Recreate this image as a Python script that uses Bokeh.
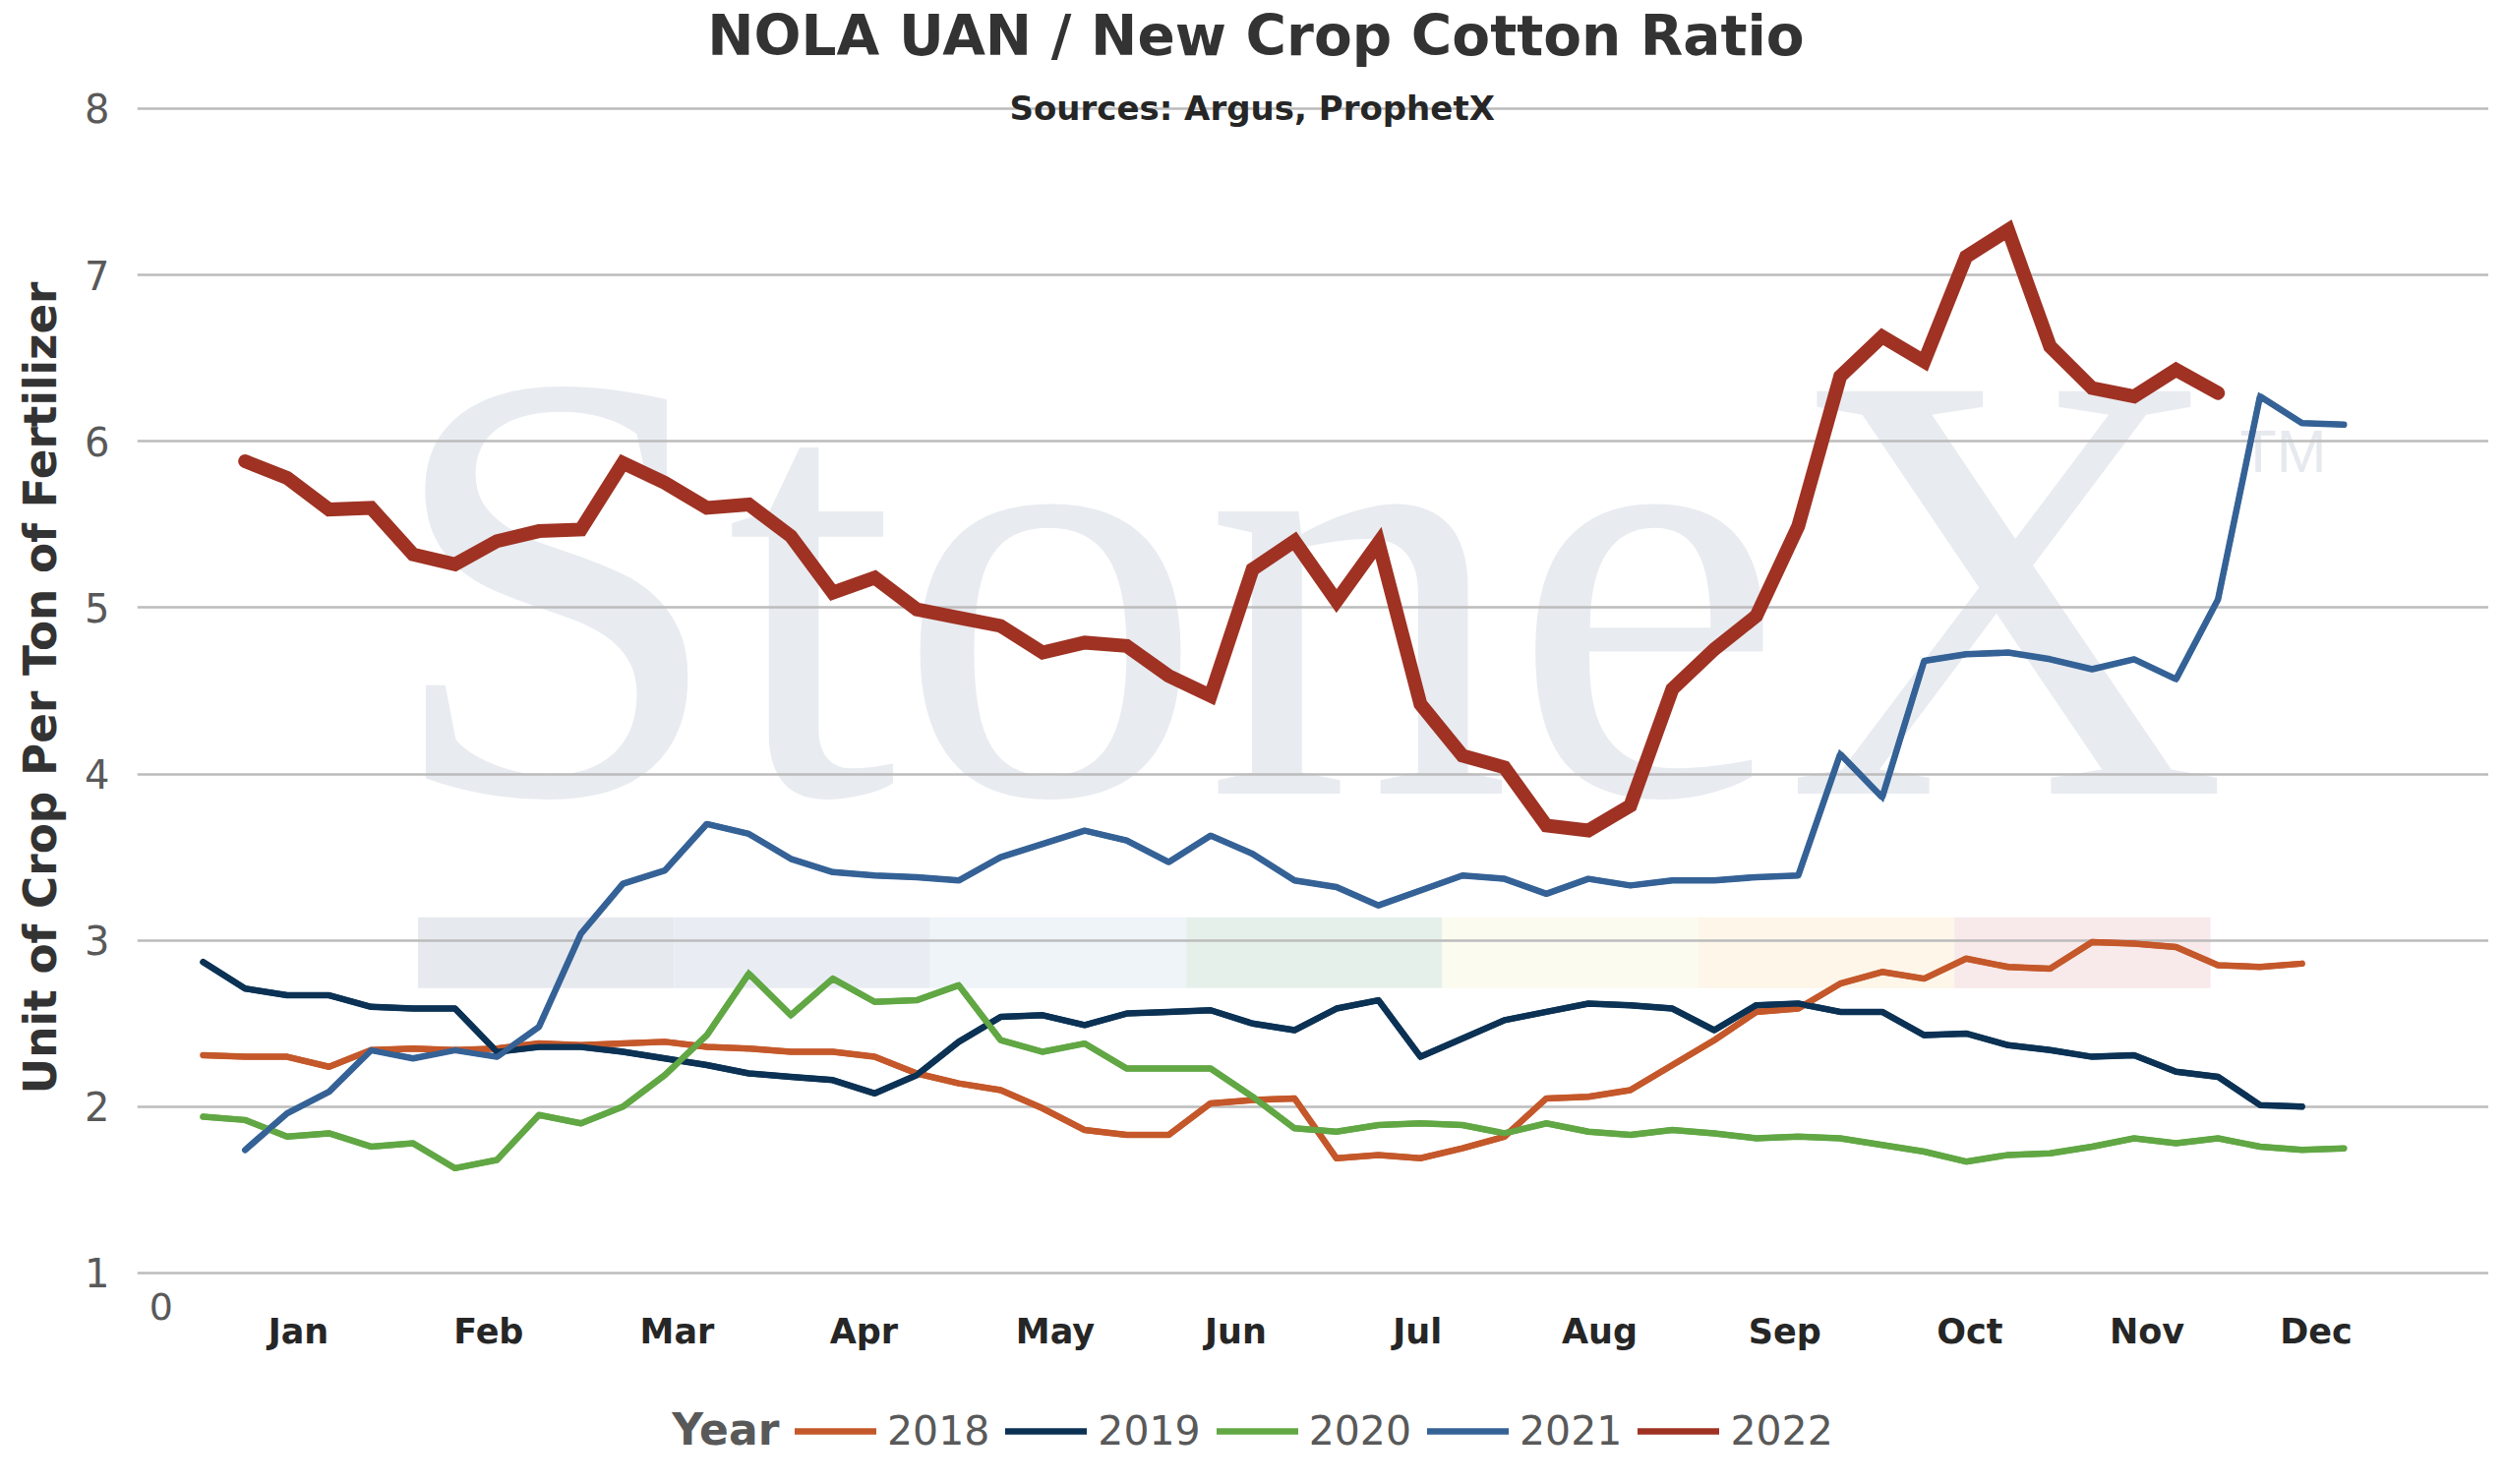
from bokeh.plotting import figure
from bokeh.models import FixedTicker, Label, Legend, LegendItem, Title
from bokeh.core.properties import value
from bokeh.embed import file_html
from bokeh.resources import INLINE

# ---------------- data ----------------
weeks_2018 = list(range(1, 52))
ratio_2018 = [2.31, 2.30, 2.30, 2.24, 2.34, 2.35, 2.34, 2.35, 2.38, 2.37,
              2.38, 2.39, 2.36, 2.35, 2.33, 2.33, 2.30, 2.20, 2.14, 2.10,
              1.99, 1.86, 1.83, 1.83, 2.02, 2.04, 2.05, 1.69, 1.71, 1.69,
              1.75, 1.82, 2.05, 2.06, 2.10, 2.25, 2.40, 2.57, 2.59, 2.74,
              2.81, 2.77, 2.89, 2.84, 2.83, 2.99, 2.98, 2.96, 2.85, 2.84,
              2.86]

weeks_2019 = list(range(1, 52))
ratio_2019 = [2.87, 2.71, 2.67, 2.67, 2.60, 2.59, 2.59, 2.33, 2.36, 2.36,
              2.33, 2.29, 2.25, 2.20, 2.18, 2.16, 2.08, 2.19, 2.39, 2.54,
              2.55, 2.49, 2.56, 2.57, 2.58, 2.50, 2.46, 2.59, 2.64, 2.30,
              2.41, 2.52, 2.57, 2.62, 2.61, 2.59, 2.46, 2.61, 2.62, 2.57,
              2.57, 2.43, 2.44, 2.37, 2.34, 2.30, 2.31, 2.21, 2.18, 2.01,
              2.00]

weeks_2020 = list(range(1, 53))
ratio_2020 = [1.94, 1.92, 1.82, 1.84, 1.76, 1.78, 1.63, 1.68, 1.95, 1.90,
              2.00, 2.19, 2.43, 2.80, 2.55, 2.77, 2.63, 2.64, 2.73, 2.40,
              2.33, 2.38, 2.23, 2.23, 2.23, 2.06, 1.87, 1.85, 1.89, 1.90,
              1.89, 1.84, 1.90, 1.85, 1.83, 1.86, 1.84, 1.81, 1.82, 1.81,
              1.77, 1.73, 1.67, 1.71, 1.72, 1.76, 1.81, 1.78, 1.81, 1.76,
              1.74, 1.75]

weeks_2021 = list(range(2, 53))
ratio_2021 = [1.74, 1.96, 2.09, 2.34, 2.29, 2.34, 2.30, 2.48, 3.04, 3.34,
              3.42, 3.70, 3.64, 3.49, 3.41, 3.39, 3.38, 3.36, 3.50, 3.58,
              3.66, 3.60, 3.47, 3.63, 3.52, 3.36, 3.32, 3.21, 3.30, 3.39,
              3.37, 3.28, 3.37, 3.33, 3.36, 3.36, 3.38, 3.39, 4.12, 3.86,
              4.68, 4.72, 4.73, 4.69, 4.63, 4.69, 4.57, 5.05, 6.27, 6.11,
              6.10]

weeks_2022 = list(range(2, 50))
ratio_2022 = [5.88, 5.78, 5.59, 5.60, 5.32, 5.26, 5.40, 5.46, 5.47, 5.87,
              5.75, 5.60, 5.62, 5.43, 5.09, 5.18, 4.99, 4.94, 4.89, 4.73,
              4.79, 4.77, 4.59, 4.47, 5.23, 5.40, 5.04, 5.39, 4.42, 4.11,
              4.04, 3.69, 3.66, 3.81, 4.51, 4.75, 4.95, 5.49, 6.39, 6.63,
              6.48, 7.11, 7.27, 6.57, 6.32, 6.27, 6.43, 6.29]

years = ["2018", "2019", "2020", "2021", "2022"]
month_ticks = [3.27, 7.80, 12.29, 16.74, 21.30, 25.60, 29.93, 34.27,
               38.68, 43.09, 47.31, 51.34]
month_labels = ["Jan", "Feb", "Mar", "Apr", "May", "Jun", "Jul", "Aug",
                "Sep", "Oct", "Nov", "Dec"]
y_ticks = [1, 2, 3, 4, 5, 6, 7, 8]

title_text = "NOLA UAN / New Crop Cotton Ratio"
subtitle_text = "Sources: Argus, ProphetX"
y_title = "Unit of Crop Per Ton of Fertilizer"
legend_title = "Year"

# ---------------- styling ----------------
colors = {"2018": "#c4582a", "2019": "#0b3254", "2020": "#61a744",
          "2021": "#356296", "2022": "#9f3223"}
widths = {"2018": 6, "2019": 6, "2020": 6, "2021": 5.5, "2022": 14}
series = {"2018": (weeks_2018, ratio_2018), "2019": (weeks_2019, ratio_2019),
          "2020": (weeks_2020, ratio_2020), "2021": (weeks_2021, ratio_2021),
          "2022": (weeks_2022, ratio_2022)}

FONT = "DejaVu Sans"

# frame spans the full height so that title / months / legend live inside it
p = figure(width=2530, height=1493, x_range=(-0.571, 55.45),
           y_range=(-0.1765, 8.650), output_backend="svg",
           toolbar_location=None, x_axis_location=None,
           min_border_left=138, min_border_right=0,
           min_border_top=0, min_border_bottom=0)
p.outline_line_color = None
p.background_fill_color = "white"
p.border_fill_color = "white"

# ---- StoneX watermark (decoration behind the grid) ----
wm_band_left = 6.12
wm_band_width = 6.10
wm_band_bottom = 2.713
wm_band_top = 3.139
wm_band_colors = ["#e6e9ee", "#e9edf3", "#eef4f8", "#e6f0ea", "#fbfbf0",
                  "#fdf6e9", "#f8e9ea"]
band_lefts = [wm_band_left + i * wm_band_width for i in range(len(wm_band_colors))]
band_rights = [b + wm_band_width for b in band_lefts]
p.quad(left=band_lefts, right=band_rights, bottom=wm_band_bottom,
       top=wm_band_top, fill_color=wm_band_colors, line_color=None,
       level="image")
p.text(x=[5.31], y=[5.13], text=["StoneX"], text_font=value("Liberation Serif"),
       text_font_size="625px", text_color="#e8ebf0", text_baseline="alphabetic",
       text_align="left", level="image")
p.text(x=[49.52], y=[5.94], text=["TM"], text_font=value("Liberation Sans"),
       text_font_size="61px", text_color="#e6e9ee", text_baseline="alphabetic",
       text_align="left", level="image")

# ---- grid / y axis ----
p.xgrid.visible = False
p.ygrid.ticker = FixedTicker(ticks=y_ticks)
p.ygrid.grid_line_color = "#bcbcbc"
p.ygrid.grid_line_width = 2.5

p.yaxis.ticker = FixedTicker(ticks=y_ticks)
p.yaxis.axis_line_color = None
p.yaxis.major_tick_line_color = None
p.yaxis.minor_tick_line_color = None
p.yaxis.major_label_text_font = FONT
p.yaxis.major_label_text_font_size = "40px"
p.yaxis.major_label_text_color = "#595959"
p.yaxis.major_label_standoff = 22

# y-axis title as a side title so it can be placed along the 1..8 span
p.add_layout(Title(text=y_title, align="left", offset=381, standoff=28,
                   vertical_align="top",
                   text_font=FONT, text_font_size="45.3px",
                   text_font_style="bold", text_color="#333333"), "left")

# ---- lines (thin twins underneath serve as legend samples) ----
legend_renderers = {}
for yr in years:
    xs, ys = series[yr]
    legend_renderers[yr] = p.line(xs, ys, line_color=colors[yr],
                                  line_width=6.5, line_cap="round")
for yr in years:
    xs, ys = series[yr]
    p.line(xs, ys, line_color=colors[yr], line_width=widths[yr],
           line_cap="round", line_join="miter")

# ---- month labels (category positions on the week scale) ----
for pos, name in zip(month_ticks, month_labels):
    p.add_layout(Label(x=pos, y=0.651, text=name, text_font=FONT,
                       text_font_size="35px", text_font_style="bold",
                       text_color="#262626", text_align="center",
                       text_baseline="middle"))
p.add_layout(Label(x=0, y=0.797, text="0", text_font=FONT,
                   text_font_size="38px", text_color="#595959",
                   text_align="center", text_baseline="middle"))

# ---- legend ----
items = [LegendItem(label=yr, renderers=[legend_renderers[yr]]) for yr in years]
legend = Legend(items=items, orientation="horizontal", location=(669, 14),
                glyph_width=83, glyph_height=20, label_standoff=11, spacing=16,
                padding=0, margin=0, border_line_color=None,
                background_fill_alpha=0, label_text_font=FONT,
                label_text_font_size="41px", label_text_color="#595959")
p.add_layout(legend, "center")
p.add_layout(Label(x=12.17, y=0.058, text=legend_title, text_font=FONT,
                   text_font_size="44px", text_font_style="bold",
                   text_color="#595959", text_align="left",
                   text_baseline="middle"))

# ---- titles ----
p.add_layout(Label(x=26.08, y=8.44, text=title_text, text_font=FONT,
                   text_font_size="56.5px", text_font_style="bold",
                   text_color="#333333", text_align="center",
                   text_baseline="middle"))
p.add_layout(Label(x=25.99, y=8.0, text=subtitle_text, text_font=FONT,
                   text_font_size="34px", text_font_style="bold",
                   text_color="#262626", text_align="center",
                   text_baseline="middle"))

open("out.html", "w").write(file_html(p, INLINE))
